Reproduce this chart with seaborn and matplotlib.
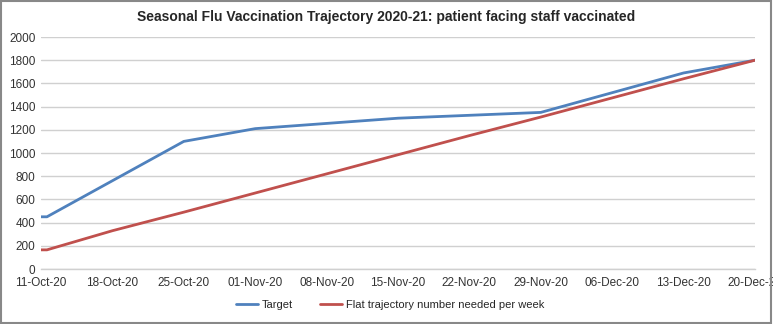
import matplotlib
matplotlib.use("Agg")
import matplotlib.pyplot as plt
import matplotlib.dates as mdates
import seaborn as sns
import pandas as pd

# Target trajectory
target_dates = ["2020-10-11 00:00", "2020-10-11 14:00", "2020-10-25 00:00", "2020-11-01 00:00",
                "2020-11-15 00:00", "2020-11-29 00:00", "2020-12-13 00:00", "2020-12-20 00:00"]
target_values = [450, 450, 1100, 1210, 1300, 1350, 1690, 1800]

# Flat trajectory: number needed per week
flat_dates = ["2020-10-11 00:00", "2020-10-11 14:00", "2020-10-18 00:00", "2020-10-25 00:00",
              "2020-11-01 00:00", "2020-11-08 00:00", "2020-11-15 00:00", "2020-11-22 00:00",
              "2020-11-29 00:00", "2020-12-06 00:00", "2020-12-13 00:00", "2020-12-20 00:00"]
flat_values = [165, 165, 330, 490, 655, 820, 985, 1150, 1310, 1475, 1640, 1800]

tick_dates = pd.date_range("2020-10-11", "2020-12-20", freq="7D")

df = pd.concat([
    pd.DataFrame({"date": pd.to_datetime(target_dates, format="ISO8601"),
                  "value": target_values, "series": "Target"}),
    pd.DataFrame({"date": pd.to_datetime(flat_dates, format="ISO8601"),
                  "value": flat_values, "series": "Flat trajectory number needed per week"}),
])

sns.set_theme(style="white")
plt.rcParams["font.family"] = ["Liberation Sans", "DejaVu Sans"]

fig = plt.figure(figsize=(7.73, 3.24), dpi=100)
ax = fig.add_axes([41 / 773, 1 - 269 / 324, (755 - 41) / 773, (269 - 37) / 324])

palette = {"Target": "#4F81BD", "Flat trajectory number needed per week": "#C0504D"}
sns.lineplot(data=df, x="date", y="value", hue="series", palette=palette,
             linewidth=2, ax=ax, legend=True, sort=False)

ax.set_xlim(pd.Timestamp("2020-10-11"), pd.Timestamp("2020-12-20"))
ax.set_ylim(0, 2000)
ax.set_yticks(range(0, 2001, 200))
ax.set_xticks(tick_dates)
ax.xaxis.set_major_formatter(mdates.DateFormatter("%d-%b-%y"))
ax.tick_params(axis="both", labelsize=8.5, colors="#333333", length=0, pad=4)
ax.tick_params(axis="x", pad=6)
ax.grid(axis="y", color="#D0D0D0", linewidth=1)
ax.set_axisbelow(True)
for s in ["top", "right", "left"]:
    ax.spines[s].set_visible(False)
ax.spines["bottom"].set_color("#D0D0D0")
ax.spines["bottom"].set_linewidth(1)
ax.set_xlabel("")
ax.set_ylabel("")

for lbl in ax.get_xticklabels():
    lbl.set_clip_on(False)

handles, labels = ax.get_legend_handles_labels()
ax.legend(handles, labels, loc="center", bbox_to_anchor=(390 / 773, 1 - 305 / 324),
          bbox_transform=fig.transFigure, ncol=2, frameon=False, fontsize=8,
          handlelength=2.0, handletextpad=0.3, columnspacing=2.5)

fig.text(0.5, 1 - 17 / 324,
         "Seasonal Flu Vaccination Trajectory 2020-21: patient facing staff vaccinated",
         ha="center", va="center", fontsize=10, fontweight="bold",
         family=["Liberation Sans Narrow", "Liberation Sans", "DejaVu Sans"])

# Outer chart border
fig.patches.append(plt.Rectangle((0.001, 0.002), 0.997, 0.995, transform=fig.transFigure,
                                 fill=False, edgecolor="#888888", linewidth=1.5))

fig.savefig("out.png", dpi=100)
